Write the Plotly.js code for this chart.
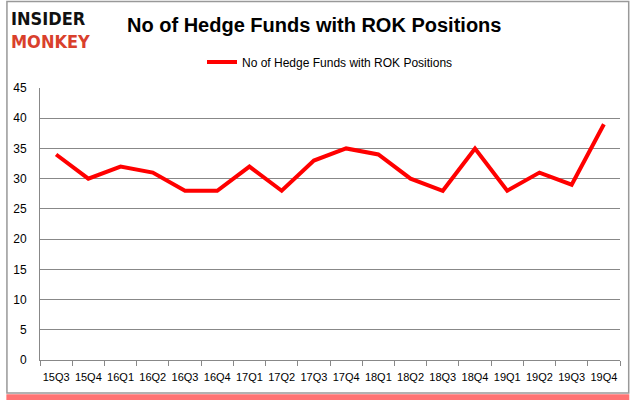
<!DOCTYPE html>
<html>
<head>
<meta charset="utf-8">
<script src="https://cdn.plot.ly/plotly-3.0.1.min.js"></script>
<style>html,body{margin:0;padding:0;background:#fff;}#chart{width:635px;height:405px;}</style>
</head>
<body>
<div id="chart"></div>
<script>
const quarters = ["15Q3","15Q4","16Q1","16Q2","16Q3","16Q4","17Q1","17Q2","17Q3","17Q4","18Q1","18Q2","18Q3","18Q4","19Q1","19Q2","19Q3","19Q4"];
const hedgeFunds = [34,30,32,31,28,28,32,28,33,35,34,30,28,35,28,31,29,39];
const seriesName = "No of Hedge Funds with ROK Positions";
const chartTitle = "No of Hedge Funds with ROK Positions";

const trace = {
  x: quarters, y: hedgeFunds, type: "scatter", mode: "lines", name: seriesName,
  line: {color: "#ff0000", width: 4}
};

const layout = {
  width: 635, height: 405,
  margin: {l: 40, r: 15, t: 88, b: 45},
  paper_bgcolor: "rgba(0,0,0,0)", plot_bgcolor: "#fff",
  showlegend: true,
  legend: {orientation: "h", x: 0.5, xanchor: "center", y: 1.096, yanchor: "middle",
    font: {family: "Liberation Sans, Arial, sans-serif", size: 12, color: "#000"}, bgcolor: "rgba(0,0,0,0)"},
  xaxis: {type: "category", showline: true, linecolor: "#888", linewidth: 1,
    ticks: "outside", tickson: "boundaries", ticklen: 5, tickcolor: "#888", tickangle: 0,
    ticklabelstandoff: 7,
    showgrid: false, tickfont: {family: "Liberation Sans, Arial, sans-serif", size: 11, color: "#000"},
    range: [-0.5, 17.5]},
  yaxis: {range: [0, 45], dtick: 5, showgrid: true, gridcolor: "#888", gridwidth: 1,
    showline: true, linecolor: "#888", zeroline: false, ticks: "", ticklen: 0,
    ticklabelstandoff: 10,
    tickfont: {family: "Liberation Sans, Arial, sans-serif", size: 12, color: "#000"}},
  shapes: [
    {type: "rect", xref: "paper", yref: "paper", x0: -0.058, x1: 1.016, y0: -0.126, y1: -0.147, line: {width: 0}, fillcolor: "rgba(255,0,0,0.55)", layer: "below"},
    {type: "rect", xref: "paper", yref: "paper", x0: -0.057, x1: 1.015, y0: -0.121, y1: 1.318, line: {color: "#999", width: 1.5}, fillcolor: "#fff", layer: "below"}
  ],
  annotations: [
    {xref: "paper", yref: "paper", x: -0.053, y: 1.213, xanchor: "left", yanchor: "middle", showarrow: false, align: "left",
      text: "<b>INSIDER</b><br><b><span style='color:#d9402c'>MONKEY</span></b>",
      font: {family: "DejaVu Sans Condensed, DejaVu Sans, sans-serif", size: 18, color: "#111"}},
    {xref: "paper", yref: "paper", x: 0.147, y: 1.232, xanchor: "left", yanchor: "middle", showarrow: false,
      text: "<b>" + chartTitle + "</b>", font: {family: "Liberation Sans, Arial, sans-serif", size: 20, color: "#000"}}
  ]
};

Plotly.newPlot("chart", [trace], layout, {displayModeBar: false, staticPlot: true});
</script>
</body>
</html>
